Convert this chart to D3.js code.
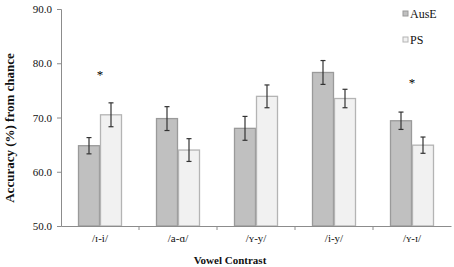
<!DOCTYPE html>
<html>
<head>
<meta charset="utf-8">
<script src="https://cdn.jsdelivr.net/npm/d3@7"></script>
<style>
  body { margin: 0; background: #fff; }
  svg text { font-family: "Liberation Serif", "Times New Roman", serif; }
</style>
</head>
<body>
<svg id="chart"></svg>
<script>
let width = 454, height = 267;

// data
let categories = ["/ɪ-i/", "/a-ɑ/", "/ʏ-y/", "/i-y/", "/ʏ-ɪ/"];
let series = ["AusE", "PS"];
let ausE = [64.8, 69.8, 68.0, 78.3, 69.4];
let ausEErr = [1.5, 2.2, 2.2, 2.2, 1.6];
let ps = [70.5, 64.0, 73.9, 73.5, 64.9];
let psErr = [2.2, 2.1, 2.1, 1.7, 1.5];
let yTicks = [50, 60, 70, 80, 90];
let stars = [{cat: 0, val: 78.2}, {cat: 4, val: 76.8}];

let fills = {AusE: "#c0c0c0", PS: "#f1f1f1"};
let strokes = {AusE: "#9a9a9a", PS: "#b4b4b4"};

let svg = d3.select("#chart")
  .attr("width", width)
  .attr("height", height);

let left = 61, right = 451, top_sp = 9, bottom = 226;

let x = d3.scaleBand()
  .domain(categories)
  .range([left, right])
  .paddingInner(0)
  .paddingOuter(0);
let xs = d3.scaleBand()
  .domain(series)
  .range([0, 44]);

let y = d3.scaleLinear()
  .domain([50, 90])
  .range([bottom, top_sp]);

let rows = categories.map((c, i) => ({
  cat: c,
  vals: [
    {s: "AusE", v: ausE[i], e: ausEErr[i]},
    {s: "PS", v: ps[i], e: psErr[i]}
  ]
}));

// bars
let groups = svg.selectAll("g.grp")
  .data(rows)
  .enter().append("g")
  .attr("class", "grp")
  .attr("transform", d => `translate(${x(d.cat) + (x.bandwidth() - 44) / 2}, 0)`);

groups.selectAll("rect")
  .data(d => d.vals)
  .enter().append("rect")
  .attr("x", d => xs(d.s) + 0.5)
  .attr("y", d => y(d.v))
  .attr("width", xs.bandwidth() - 1)
  .attr("height", d => y(50) - y(d.v))
  .attr("fill", d => fills[d.s])
  .attr("stroke", d => strokes[d.s])
  .attr("stroke-width", 1.3);

// error bars
let eb = groups.selectAll("g.err")
  .data(d => d.vals)
  .enter().append("g")
  .attr("class", "err")
  .attr("stroke", "#333")
  .attr("stroke-width", 1.2);
eb.append("line")
  .attr("x1", d => xs(d.s) + xs.bandwidth() / 2)
  .attr("x2", d => xs(d.s) + xs.bandwidth() / 2)
  .attr("y1", d => y(d.v + d.e))
  .attr("y2", d => y(d.v - d.e));
[1, -1].forEach(sgn => {
  eb.append("line")
    .attr("x1", d => xs(d.s) + xs.bandwidth() / 2 - 2.5)
    .attr("x2", d => xs(d.s) + xs.bandwidth() / 2 + 2.5)
    .attr("y1", d => y(d.v + sgn * d.e))
    .attr("y2", d => y(d.v + sgn * d.e));
});

// axes
let yax_draw = d3.axisLeft(y)
  .tickValues(yTicks)
  .tickSize(4)
  .tickFormat(d3.format(".1f"));
let yg = svg.append("g")
  .attr("transform", `translate(${left}, 0)`)
  .call(yax_draw);

let xax_draw = d3.axisBottom(x)
  .tickSize(0)
  .tickPadding(8);
let xg = svg.append("g")
  .attr("transform", `translate(0, ${bottom})`)
  .call(xax_draw);
// tick marks sit between groups
xg.selectAll(".divs")
  .data(categories.slice(1))
  .enter().append("line")
  .attr("x1", d => x(d))
  .attr("x2", d => x(d))
  .attr("y1", 0)
  .attr("y2", 4)
  .attr("stroke", "#8c8c8c");

svg.selectAll(".domain").attr("stroke", "#8c8c8c");
svg.selectAll(".tick line").attr("stroke", "#8c8c8c");
svg.selectAll(".tick text")
  .attr("fill", "#111")
  .style("font-size", "11px")
  .style("font-family", "'Liberation Serif', serif");
yg.selectAll(".tick text").attr("dx", "-2");

// significance stars
svg.selectAll("text.star")
  .data(stars)
  .enter().append("text")
  .attr("class", "star")
  .attr("x", d => x(categories[d.cat]) + x.bandwidth() / 2)
  .attr("y", d => y(d.val) + 6)
  .attr("text-anchor", "middle")
  .attr("font-size", 13)
  .attr("fill", "#000")
  .text("*");

// axis titles
svg.append("text")
  .text("Accuracy (%) from chance")
  .attr("text-anchor", "middle")
  .attr("transform", `translate(14, 128) rotate(-90)`)
  .attr("font-size", 13)
  .attr("font-weight", "bold")
  .attr("fill", "#111");
svg.append("text")
  .text("Vowel Contrast")
  .attr("x", 230)
  .attr("y", 264)
  .attr("text-anchor", "middle")
  .attr("font-size", 11)
  .attr("font-weight", "bold")
  .attr("fill", "#111");

// legend
let leg = svg.selectAll("g.leg")
  .data(series)
  .enter().append("g")
  .attr("class", "leg")
  .attr("transform", (d, i) => `translate(403, ${14 + i * 26})`);
leg.append("rect")
  .attr("x", 0).attr("y", -3)
  .attr("width", 5).attr("height", 5)
  .attr("fill", d => fills[d])
  .attr("stroke", d => strokes[d]);
leg.append("text")
  .attr("x", 7)
  .attr("y", 4)
  .attr("font-size", 12)
  .attr("fill", "#111")
  .text(d => d);
</script>
</body>
</html>
